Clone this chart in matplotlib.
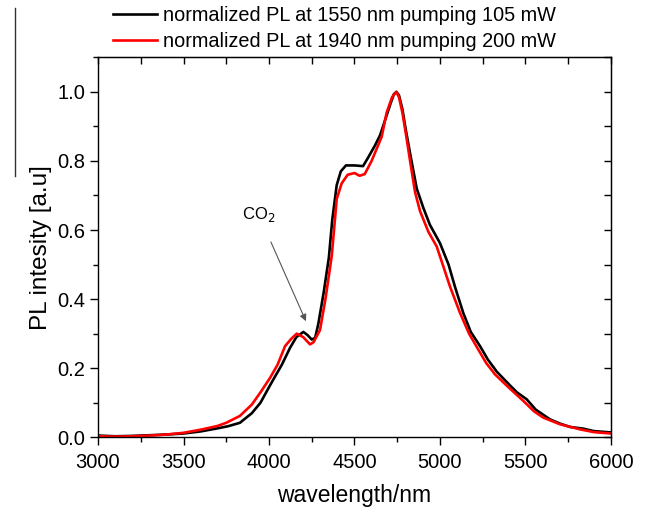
import matplotlib
matplotlib.use("Agg")
import matplotlib.pyplot as plt
from matplotlib.lines import Line2D

plt.rcParams['font.family'] = ['Liberation Sans', 'DejaVu Sans']

# Series 1: normalized PL at 1550 nm pumping 105 mW (black)
wl_black = [3000, 3100, 3200, 3300, 3400, 3500, 3600, 3700, 3760, 3830, 3900, 3950,
            4000, 4025, 4075, 4123, 4160, 4201, 4225, 4250, 4270, 4289, 4320, 4350,
            4370, 4396, 4420, 4450, 4500, 4550, 4580, 4620, 4650, 4680, 4710, 4730,
            4745, 4760, 4780, 4800, 4825, 4864, 4902, 4941, 5000, 5050, 5088,
            5136, 5180, 5234, 5280, 5332, 5400, 5450, 5507, 5560, 5643, 5700, 5760,
            5838, 5900, 6000]
pl_black = [0.005, 0.003, 0.004, 0.006, 0.008, 0.011, 0.017, 0.026, 0.032, 0.042, 0.07, 0.10,
            0.145, 0.167, 0.21, 0.259, 0.29, 0.305, 0.296, 0.283, 0.288, 0.33, 0.42, 0.52,
            0.63, 0.73, 0.77, 0.787, 0.787, 0.785, 0.81, 0.845, 0.875, 0.92, 0.965, 0.993,
            1.0, 0.99, 0.95, 0.89, 0.822, 0.72, 0.665, 0.615, 0.562, 0.50, 0.435,
            0.36, 0.305, 0.264, 0.225, 0.19, 0.155, 0.13, 0.11, 0.08, 0.052, 0.04, 0.03,
            0.025, 0.018, 0.014]

# Series 2: normalized PL at 1940 nm pumping 200 mW (red)
wl_red = [3000, 3100, 3200, 3300, 3400, 3500, 3600, 3700, 3750, 3830, 3900, 3950,
          4006, 4050, 4094, 4130, 4162, 4200, 4240, 4260, 4298, 4330, 4367, 4396,
          4425, 4460, 4500, 4530, 4560, 4600, 4659, 4688, 4720, 4745, 4760, 4780,
          4800, 4825, 4854, 4883, 4932, 4981, 5058, 5117, 5170, 5224, 5270, 5322,
          5400, 5488, 5550, 5604, 5700, 5819, 5900, 6000]
pl_red = [0.003, 0.002, 0.003, 0.005, 0.008, 0.013, 0.022, 0.033, 0.042, 0.062, 0.095, 0.13,
          0.172, 0.21, 0.264, 0.285, 0.30, 0.29, 0.269, 0.275, 0.31, 0.40, 0.525, 0.69,
          0.735, 0.76, 0.765, 0.757, 0.762, 0.80, 0.87, 0.94, 0.985, 1.0, 0.985, 0.94,
          0.88, 0.80, 0.71, 0.655, 0.595, 0.552, 0.437, 0.36, 0.30, 0.254, 0.215, 0.182,
          0.145, 0.105, 0.075, 0.057, 0.038, 0.023, 0.015, 0.011]

labels = ["normalized PL at 1550 nm pumping 105 mW",
          "normalized PL at 1940 nm pumping 200 mW"]

fig = plt.figure(figsize=(6.46, 5.09), dpi=100)
ax = fig.add_axes([98/646, 1 - 437.3/509, (611 - 98)/646, (437.3 - 57.3)/509])

l1, = ax.plot(wl_black, pl_black, color='black', lw=1.9, label=labels[0])
l2, = ax.plot(wl_red, pl_red, color='#ff0000', lw=1.9, label=labels[1])

ax.set_xlim(3000, 6000)
ax.set_ylim(0, 1.1)
ax.set_xticks([3000, 3500, 4000, 4500, 5000, 5500, 6000])
ax.set_xticks(range(3000, 6001, 250), minor=True)
ax.set_yticks([0.0, 0.2, 0.4, 0.6, 0.8, 1.0])
ax.set_yticks([i / 10 for i in range(0, 12)], minor=True)
ax.set_yticklabels(['0.0', '0.2', '0.4', '0.6', '0.8', '1.0'])

ax.tick_params(which='major', direction='out', length=6, width=1, labelsize=14.5, pad=3)
ax.tick_params(axis='x', which='major', pad=5)
ax.tick_params(which='minor', direction='out', length=3.5, width=1)
for s in ax.spines.values():
    s.set_linewidth(1.0)

# mirrored inward ticks on top and right
axt = ax.secondary_xaxis('top')
axt.set_xticks(range(3000, 6001, 250))
axt.tick_params(direction='in', length=5, width=1, labeltop=False)
axr = ax.secondary_yaxis('right')
axr.set_yticks([i / 10 for i in range(0, 12)])
axr.tick_params(direction='in', length=5, width=1, labelright=False)

ax.set_xlabel('wavelength/nm', fontsize=16.5, labelpad=9)
ax.set_ylabel('PL intesity [a.u]', fontsize=17.5, labelpad=4)

ax.annotate('CO$_2$', xy=(4216, 0.336), xytext=(3940, 0.645),
            ha='center', va='center', fontsize=12,
            arrowprops=dict(arrowstyle='-|>', color='#555555', lw=0.8,
                            mutation_scale=10, shrinkA=12, shrinkB=0))

fig.legend(handles=[l1, l2], labels=labels, loc='upper left',
           bbox_to_anchor=(113/646, 1 - 6/509), frameon=False, fontsize=14.3,
           handlelength=2.2, handletextpad=0.3, labelspacing=0.35,
           borderaxespad=0.0, borderpad=0.0)

fig.add_artist(Line2D([15/646, 15/646], [1 - 8/509, 1 - 176/509],
                      transform=fig.transFigure, color='#333333', lw=1.0))

fig.savefig('out.png', dpi=100)
